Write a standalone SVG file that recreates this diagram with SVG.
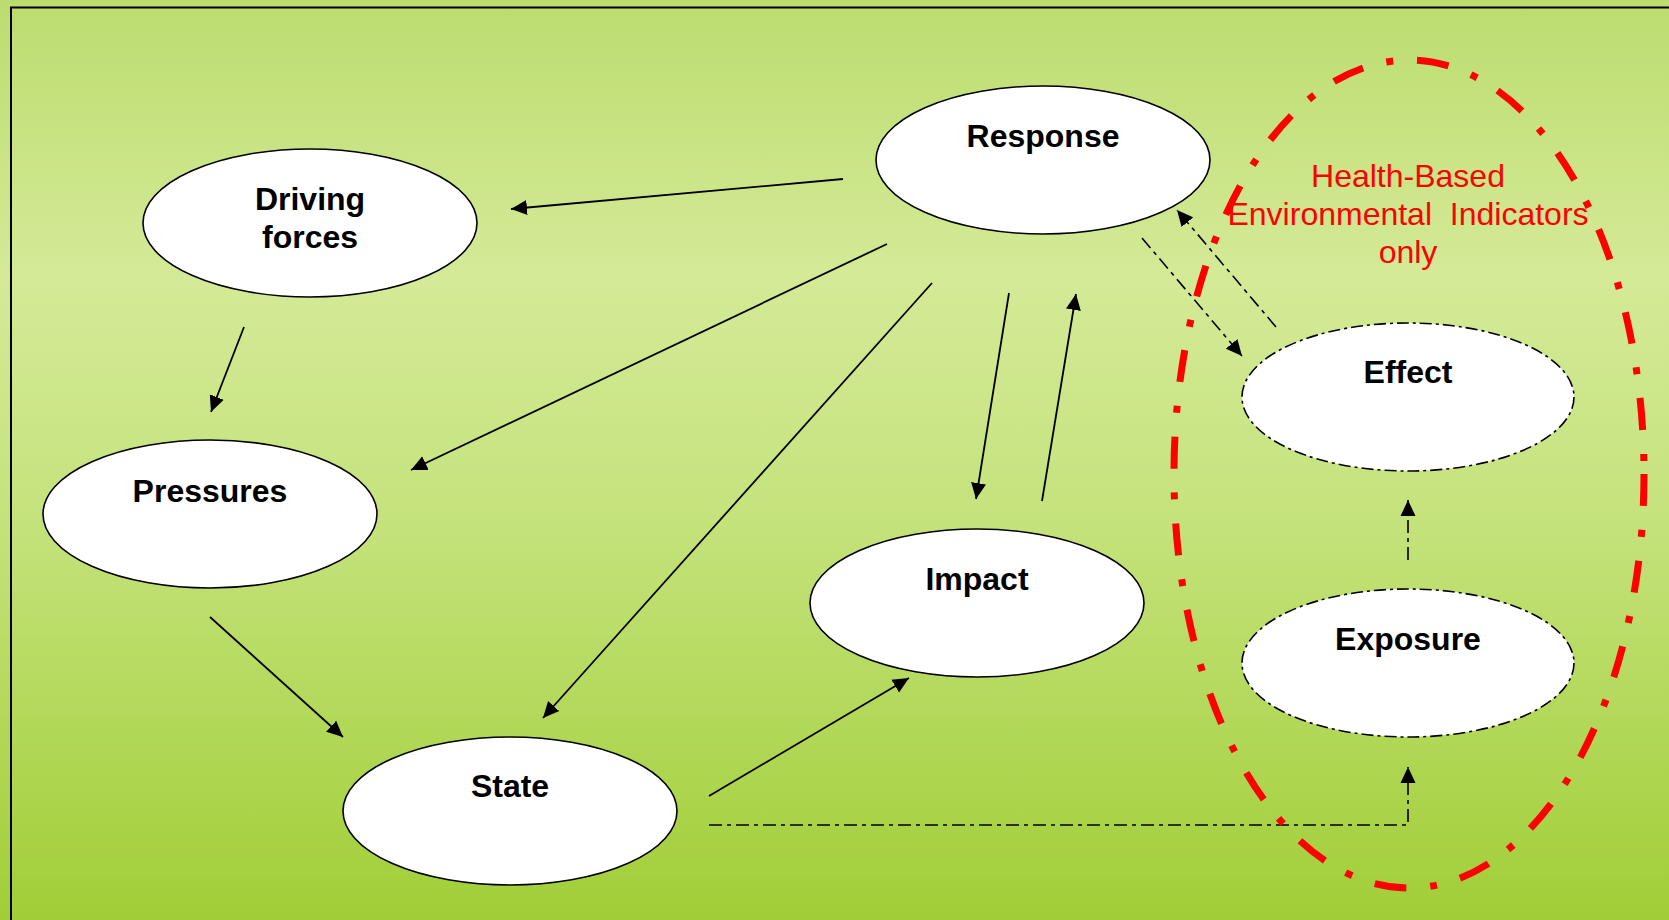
<svg xmlns="http://www.w3.org/2000/svg" width="1669" height="920" viewBox="0 0 1669 920">
<defs>
<linearGradient id="bg" x1="0" y1="0" x2="0" y2="1">
<stop offset="0" stop-color="#bcdc6f"/>
<stop offset="0.3" stop-color="#d4ea97"/>
<stop offset="0.55" stop-color="#c6e37e"/>
<stop offset="1" stop-color="#a1ce37"/>
</linearGradient>
<marker id="ah" markerUnits="userSpaceOnUse" markerWidth="16" markerHeight="16" refX="16" refY="8" orient="auto" viewBox="0 0 16 16">
<path d="M0,0.5 L16,8 L0,15.5 z" fill="#000" stroke="none"/>
</marker>
<style>
.node{fill:#fff;stroke:#000;stroke-width:1.6}
.dnode{fill:#fff;stroke:#000;stroke-width:1.6;stroke-dasharray:12 4 3 4}
.lbl{font-family:"Liberation Sans",Arial,sans-serif;font-weight:bold;font-size:32px;fill:#000;text-anchor:middle}
.red{font-family:"Liberation Sans",Arial,sans-serif;font-size:32px;fill:#ff0000;text-anchor:middle}
.c{fill:none;stroke:#000;stroke-width:1.8;marker-end:url(#ah)}
.dc{fill:none;stroke:#000;stroke-width:1.6;stroke-dasharray:13 5 4 5;marker-end:url(#ah)}
</style>
</defs>
<rect x="0" y="0" width="1669" height="920" fill="url(#bg)"/>
<rect x="11" y="7.5" width="1700" height="950" fill="none" stroke="#000" stroke-width="2"/>

<g id="connectors">
<line class="c" x1="843" y1="179" x2="511" y2="209"/>
<line class="c" x1="887" y1="244" x2="411" y2="470"/>
<line class="c" x1="932" y1="283" x2="543" y2="718"/>
<line class="c" x1="1009" y1="293" x2="976" y2="499"/>
<line class="c" x1="1042" y1="501" x2="1076" y2="294"/>
<line class="c" x1="244" y1="327" x2="211" y2="412"/>
<line class="c" x1="210" y1="617" x2="343" y2="737"/>
<line class="c" x1="709" y1="796" x2="909" y2="678"/>
<path class="dc" d="M709,825 H1408 V767"/>
<line class="dc" x1="1408" y1="560" x2="1408" y2="500"/>
<line class="dc" x1="1142" y1="238" x2="1242" y2="356"/>
<line class="dc" x1="1276" y1="327" x2="1177" y2="210"/>
</g>

<g id="driving-forces">
<ellipse class="node" cx="310" cy="223" rx="167" ry="74"/>
<text class="lbl" x="310" y="210">Driving</text>
<text class="lbl" x="310" y="248">forces</text>
</g>
<g id="response">
<ellipse class="node" cx="1043" cy="160" rx="167" ry="74"/>
<text class="lbl" x="1043" y="147">Response</text>
</g>
<g id="pressures">
<ellipse class="node" cx="210" cy="514" rx="167" ry="74"/>
<text class="lbl" x="210" y="502">Pressures</text>
</g>
<g id="impact">
<ellipse class="node" cx="977" cy="603" rx="167" ry="74"/>
<text class="lbl" x="977" y="590">Impact</text>
</g>
<g id="state">
<ellipse class="node" cx="510" cy="811" rx="167" ry="74"/>
<text class="lbl" x="510" y="797">State</text>
</g>
<g id="effect">
<ellipse class="dnode" cx="1408" cy="397" rx="166" ry="74"/>
<text class="lbl" x="1408" y="383">Effect</text>
</g>
<g id="exposure">
<ellipse class="dnode" cx="1408" cy="663" rx="166" ry="74"/>
<text class="lbl" x="1408" y="650">Exposure</text>
</g>
<g id="health-based-group">
<ellipse cx="1409" cy="474" rx="235" ry="414" fill="none" stroke="#ff0000" stroke-width="7" stroke-dasharray="32 24 7 24"/>
<text class="red" x="1408" y="187">Health-Based</text>
<text class="red" x="1408" y="225" xml:space="preserve">Environmental  Indicators</text>
<text class="red" x="1408" y="263">only</text>
</g>
</svg>
